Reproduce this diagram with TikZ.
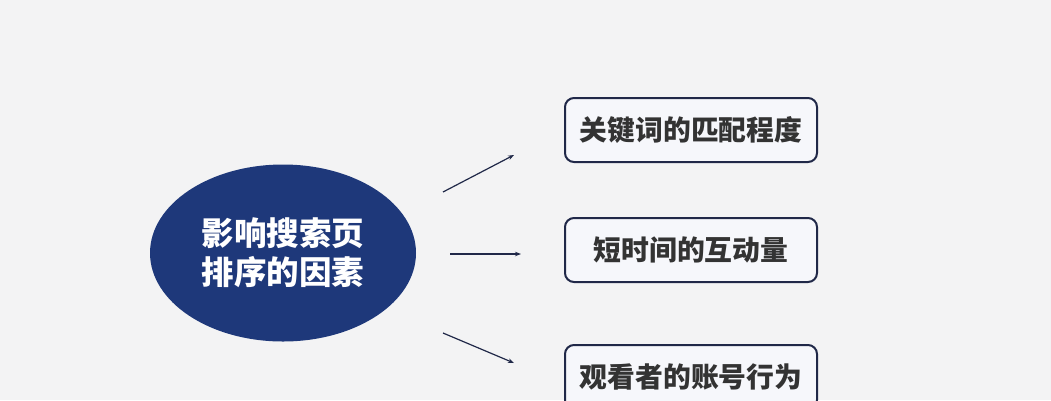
\documentclass[tikz,border=0pt]{standalone}
\usepackage{fontspec}
\newfontfamily\cjk{Noto Sans CJK SC}
\usetikzlibrary{shapes.geometric,arrows.meta}
\definecolor{bgc}{RGB}{243,243,244}
\definecolor{navy}{RGB}{30,56,122}
\definecolor{boxline}{RGB}{32,40,72}
\definecolor{boxfill}{RGB}{246,247,251}
\definecolor{txt}{RGB}{51,51,51}
\tikzset{
  hub/.style={ellipse, fill=navy, draw=none, minimum width=266pt, minimum height=177pt, inner sep=0pt,
    text=white, font=\cjk\bfseries\fontsize{32.5}{39}\selectfont, align=center},
  factor/.style={rectangle, rounded corners=9pt, draw=boxline, line width=2pt, fill=boxfill,
    minimum width=252pt, minimum height=64pt, inner sep=0pt,
    text=txt, font=\cjk\bfseries\fontsize{27.8}{30}\selectfont},
  link/.style={draw=boxline, line width=1.2pt, -{Stealth[length=6pt,width=4.5pt]}}
}
\begin{document}
\begin{tikzpicture}[x=1pt,y=-1pt]
\useasboundingbox (0,0) rectangle (1051,400);
\fill[bgc] (0,0) rectangle (1051,400);
\begin{scope}
\clip (0,0) rectangle (1051,400);
\node[hub] (h) at (283,253) {影响搜索页\\排序的因素};
\node[factor] (f1) at (691,130) {关键词的匹配程度};
\node[factor] (f2) at (691,250) {短时间的互动量};
\node[factor] (f3) at (691,377) {观看者的账号行为};
\end{scope}
\coordinate (a1s) at (443,192);
\coordinate (a1e) at (514,155);
\coordinate (a2s) at (450,254);
\coordinate (a2e) at (521,254);
\coordinate (a3s) at (443,333);
\coordinate (a3e) at (514,363);
\draw[link] (a1s) -- (a1e);
\draw[link] (a2s) -- (a2e);
\draw[link] (a3s) -- (a3e);
\end{tikzpicture}
\end{document}
